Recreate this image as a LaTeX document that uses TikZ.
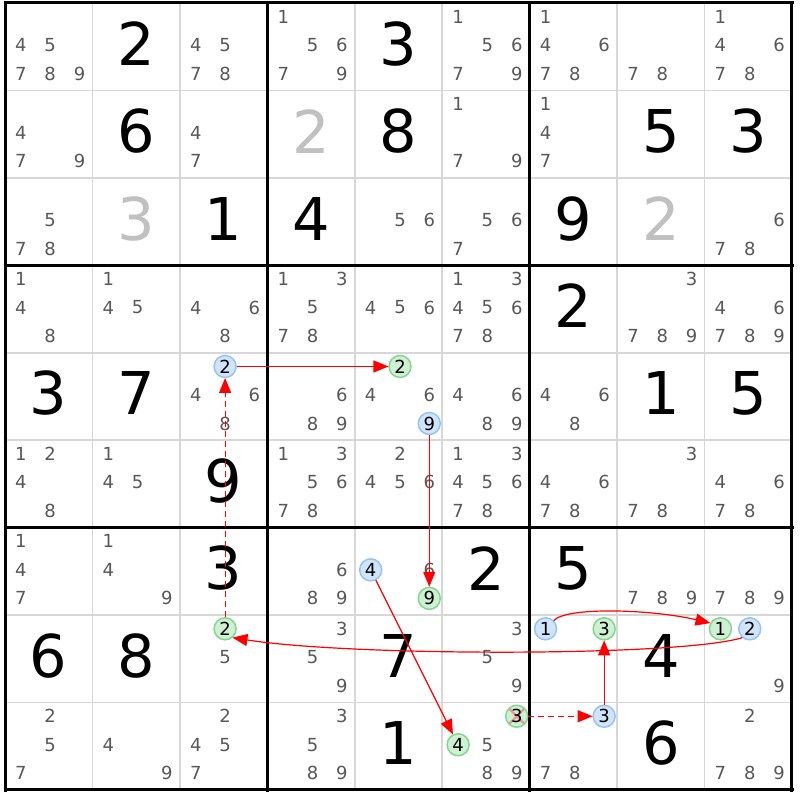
\documentclass[tikz,border=0pt]{standalone}
\usepackage{fontspec}
\setmainfont{DejaVu Sans}
\usetikzlibrary{arrows.meta}
\definecolor{candgray}{RGB}{88,88,88}
\definecolor{solvedgray}{RGB}{192,192,192}
\definecolor{thingrid}{RGB}{215,215,215}
\definecolor{onfill}{RGB}{208,229,251}
\definecolor{onedge}{RGB}{150,196,242}
\definecolor{offfill}{RGB}{206,241,212}
\definecolor{offedge}{RGB}{132,214,142}
\definecolor{crossred}{RGB}{240,150,150}
\tikzset{
  cand/.style={inner sep=0pt, text=candgray, font=\fontsize{18}{18}\selectfont},
  bigval/.style={inner sep=0pt, font=\fontsize{59}{59}\selectfont},
  hlcand/.style={circle, inner sep=0pt, minimum size=22pt, line width=1.5pt,
    outer sep=0.5pt, font=\fontsize{18}{18}\selectfont},
  oncand/.style={hlcand, draw=onedge, fill=onfill},
  offcand/.style={hlcand, draw=offedge, fill=offfill},
  struck/.style={path picture={\draw[crossred, line width=2.2pt]
    (path picture bounding box.north west) -- (path picture bounding box.south east)
    (path picture bounding box.north east) -- (path picture bounding box.south west);}},
  link/.style={red, line width=1.2pt, -{Triangle[length=15pt,width=12pt]}},
  weaklink/.style={link, dash pattern=on 6pt off 4pt},
}
% position of candidate #3 in row #1, column #2
\newcommand\candat[3]{%
  \pgfmathsetmacro\cx{5+(#2-0.5)*87.44+1.5+(mod(#3-1,3)-1)*29.3}%
  \pgfmathsetmacro\cy{3+(#1-0.5)*87.44-1.5+(div(#3-1,3)-1)*28.5}}
\begin{document}
\begin{tikzpicture}[x=1pt,y=-1pt]
\fill[white] (0,0) rectangle (800,800);
\useasboundingbox (0,0) rectangle (800,800);
% grid
\foreach \i in {1,2,4,5,7,8} {
  \draw[thingrid, line width=1.8pt] ({5+\i*87.44},3) -- ({5+\i*87.44},790);
  \draw[thingrid, line width=1.8pt] (5,{3+\i*87.44}) -- (792,{3+\i*87.44});
}
\foreach \i in {0,3,6,9} {
  \draw[line width=3pt] ({5+\i*87.44},1.5) -- ({5+\i*87.44},791.5);
  \draw[line width=3pt] (3.5,{3+\i*87.44}) -- (793.5,{3+\i*87.44});
}
% givens
\foreach \r/\c/\v in {1/2/2, 1/5/3, 2/2/6, 2/5/8, 2/8/5, 2/9/3, 3/3/1, 3/4/4, 3/7/9,
    4/7/2, 5/1/3, 5/2/7, 5/8/1, 5/9/5, 6/3/9, 7/3/3, 7/6/2, 7/7/5,
    8/1/6, 8/2/8, 8/5/7, 8/8/4, 9/5/1, 9/8/6}
  \node[bigval] (v\r\c) at ({5+(\c-0.5)*87.44},{3+(\r-0.5)*87.44-3}) {\v};
% solved
\foreach \r/\c/\v in {2/4/2, 3/2/3, 3/8/2}
  \node[bigval, text=solvedgray] (v\r\c) at ({5+(\c-0.5)*87.44},{3+(\r-0.5)*87.44-3}) {\v};
% candidates
\foreach \r/\c/\ks in {1/1/{4,5,7,8,9}, 1/3/{4,5,7,8}, 1/4/{1,5,6,7,9}, 1/6/{1,5,6,7,9},
    1/7/{1,4,6,7,8}, 1/8/{7,8}, 1/9/{1,4,6,7,8},
    2/1/{4,7,9}, 2/3/{4,7}, 2/6/{1,7,9}, 2/7/{1,4,7},
    3/1/{5,7,8}, 3/5/{5,6}, 3/6/{5,6,7}, 3/9/{6,7,8},
    4/1/{1,4,8}, 4/2/{1,4,5}, 4/3/{4,6,8}, 4/4/{1,3,5,7,8}, 4/5/{4,5,6},
    4/6/{1,3,4,5,6,7,8}, 4/8/{3,7,8,9}, 4/9/{4,6,7,8,9},
    5/3/{4,6,8}, 5/4/{6,8,9}, 5/5/{4,6}, 5/6/{4,6,8,9}, 5/7/{4,6,8},
    6/1/{1,2,4,8}, 6/2/{1,4,5}, 6/4/{1,3,5,6,7,8}, 6/5/{2,4,5,6},
    6/6/{1,3,4,5,6,7,8}, 6/7/{4,6,7,8}, 6/8/{3,7,8}, 6/9/{4,6,7,8},
    7/1/{1,4,7}, 7/2/{1,4,9}, 7/4/{6,8,9}, 7/5/{6}, 7/8/{7,8,9}, 7/9/{7,8,9},
    8/3/{5}, 8/4/{3,5,9}, 8/6/{3,5,9}, 8/9/{9},
    9/1/{2,5,7}, 9/2/{4,9}, 9/3/{2,4,5,7}, 9/4/{3,5,8,9}, 9/6/{5,8,9},
    9/7/{7,8}, 9/9/{2,7,8,9}}
  \foreach \k in \ks {
    \candat{\r}{\c}{\k}
    \node[cand] (c\r\c\k) at (\cx,\cy) {\k};
  }
% chain
\candat{5}{3}{2}\node[oncand] (r5c3n2) at (\cx,\cy) {2};
\candat{5}{5}{2}\node[offcand] (r5c5n2) at (\cx,\cy) {2};
\candat{5}{5}{9}\node[oncand] (r5c5n9) at (\cx,\cy) {9};
\candat{7}{5}{9}\node[offcand] (r7c5n9) at (\cx,\cy) {9};
\candat{7}{5}{4}\node[oncand] (r7c5n4) at (\cx,\cy) {4};
\candat{9}{6}{4}\node[offcand] (r9c6n4) at (\cx,\cy) {4};
\candat{9}{6}{3}\node[offcand, struck] (r9c6n3) at (\cx,\cy) {3};
\candat{9}{7}{3}\node[oncand] (r9c7n3) at (\cx,\cy) {3};
\candat{8}{7}{3}\node[offcand] (r8c7n3) at (\cx,\cy) {3};
\candat{8}{7}{1}\node[oncand] (r8c7n1) at (\cx,\cy) {1};
\candat{8}{9}{1}\node[offcand] (r8c9n1) at (\cx,\cy) {1};
\candat{8}{9}{2}\node[oncand] (r8c9n2) at (\cx,\cy) {2};
\candat{8}{3}{2}\node[offcand] (r8c3n2) at (\cx,\cy) {2};
\draw[link] (r5c3n2) -- (r5c5n2);
\draw[weaklink] (r8c3n2) -- (r5c3n2);
\draw[link] (r5c5n9) -- (r7c5n9);
\draw[link] (r7c5n4) -- (r9c6n4);
\draw[weaklink] (r9c6n3) -- (r9c7n3);
\draw[link] (r9c7n3) -- (r8c7n3);
\draw[link] (r8c7n1.45) .. controls +(12,-14) and +(-60,-14) .. (r8c9n1.150);
\draw[link] (r8c9n2.-130) .. controls +(-60,19) and +(120,19) .. (r8c3n2.-50);
\end{tikzpicture}
\end{document}
